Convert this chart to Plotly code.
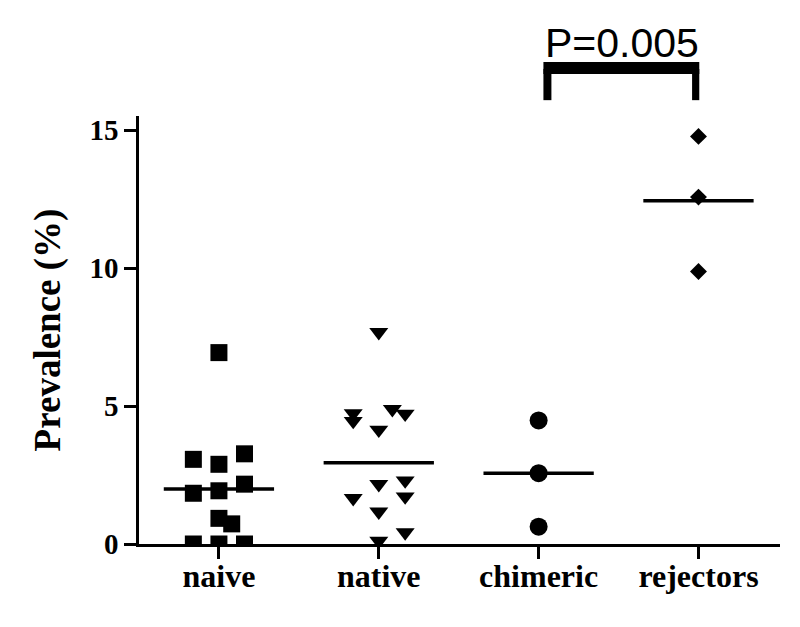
import plotly.graph_objects as go

categories = ["naive", "native", "chimeric", "rejectors"]

naive_vals = [6.94, 3.07, 2.89, 3.27, 1.84, 1.93, 2.17, 0.93, 0.73, 0.0, 0.0, 0.0]
naive_jit = [0, -0.16, 0, 0.16, -0.16, 0, 0.16, 0, 0.08, -0.16, 0, 0.16]

native_vals = [7.68, 4.74, 4.46, 4.14, 4.89, 4.72, 2.17, 2.30, 1.72, 1.66, 1.17, 0.42, 0.11]
native_jit = [0, -0.16, -0.16, 0, 0.085, 0.165, 0, 0.165, 0.165, -0.16, 0, 0.165, 0]

chimeric_vals = [4.48, 2.57, 0.63]
chimeric_jit = [0, 0, 0]

rejectors_vals = [14.78, 12.58, 9.88]
rejectors_jit = [0, 0, 0]

mean_vals = [1.99, 2.95, 2.57, 12.45]

y_ticks = [0, 5, 10, 15]
p_text = "P=0.005"

groups = [
    (naive_vals, naive_jit, "square", 17),
    (native_vals, native_jit, "triangle-down", 16.5),
    (chimeric_vals, chimeric_jit, "circle", 18),
    (rejectors_vals, rejectors_jit, "diamond", 13),
]

fig = go.Figure()

for i, (vals, jit, sym, sz) in enumerate(groups):
    fig.add_trace(go.Scatter(
        x=[i + j for j in jit], y=vals, mode="markers",
        marker=dict(symbol=sym, size=sz, color="black", line=dict(width=0)),
        showlegend=False, cliponaxis=True,
    ))

half = 0.345
for i, m in enumerate(mean_vals):
    fig.add_trace(go.Scatter(
        x=[i - half, i + half], y=[m, m], mode="lines",
        line=dict(color="black", width=3.5), showlegend=False,
    ))

# significance bracket between chimeric (2) and rejectors (3)
a, b = 2, 3
fig.add_shape(type="rect", xref="x", yref="paper", x0=a + 0.03, x1=b + 0.005,
              y0=1.098, y1=1.126, fillcolor="black", line=dict(width=0))
fig.add_shape(type="rect", xref="x", yref="paper", x0=a + 0.03, x1=a + 0.08,
              y0=1.037, y1=1.11, fillcolor="black", line=dict(width=0))
fig.add_shape(type="rect", xref="x", yref="paper", x0=b - 0.04, x1=b + 0.005,
              y0=1.037, y1=1.11, fillcolor="black", line=dict(width=0))
fig.add_annotation(x=(a + b) / 2 + 0.02, xref="x", y=1.113, yref="paper",
                   text=p_text, showarrow=False, yanchor="bottom",
                   font=dict(family="Liberation Sans, Arial", size=41, color="black"))

# page body has an 8px default margin; size the figure to fit the window
fig.update_layout(
    width=792, height=619,
    margin=dict(l=131, r=20, t=108, b=83, autoexpand=False),
    plot_bgcolor="white", paper_bgcolor="white",
    font=dict(family="Liberation Serif, Times New Roman", color="black"),
)
fig.update_xaxes(
    range=[-0.5, 3.51], tickmode="array", tickvals=list(range(len(categories))),
    ticktext=["<b>%s</b>" % c for c in categories],
    tickfont=dict(size=32, family="Liberation Serif"),
    showline=True, linecolor="black", linewidth=2.5,
    ticks="outside", ticklen=12, tickwidth=2.5, tickcolor="black",
    showgrid=False, zeroline=False, automargin=False, ticklabelstandoff=-10,
)
fig.update_yaxes(
    range=[0, 15.52], tickmode="array", tickvals=y_ticks,
    ticktext=["<b>%d</b>" % t for t in y_ticks],
    tickfont=dict(size=29, family="Liberation Serif"),
    title=dict(text="<b>Prevalence (%)</b>", font=dict(size=37, family="Liberation Serif"), standoff=18),
    showline=True, linecolor="black", linewidth=2.5,
    ticks="outside", ticklen=12, tickwidth=2.5, tickcolor="black",
    showgrid=False, zeroline=False, automargin=False,
)

fig.write_html("out.html")
